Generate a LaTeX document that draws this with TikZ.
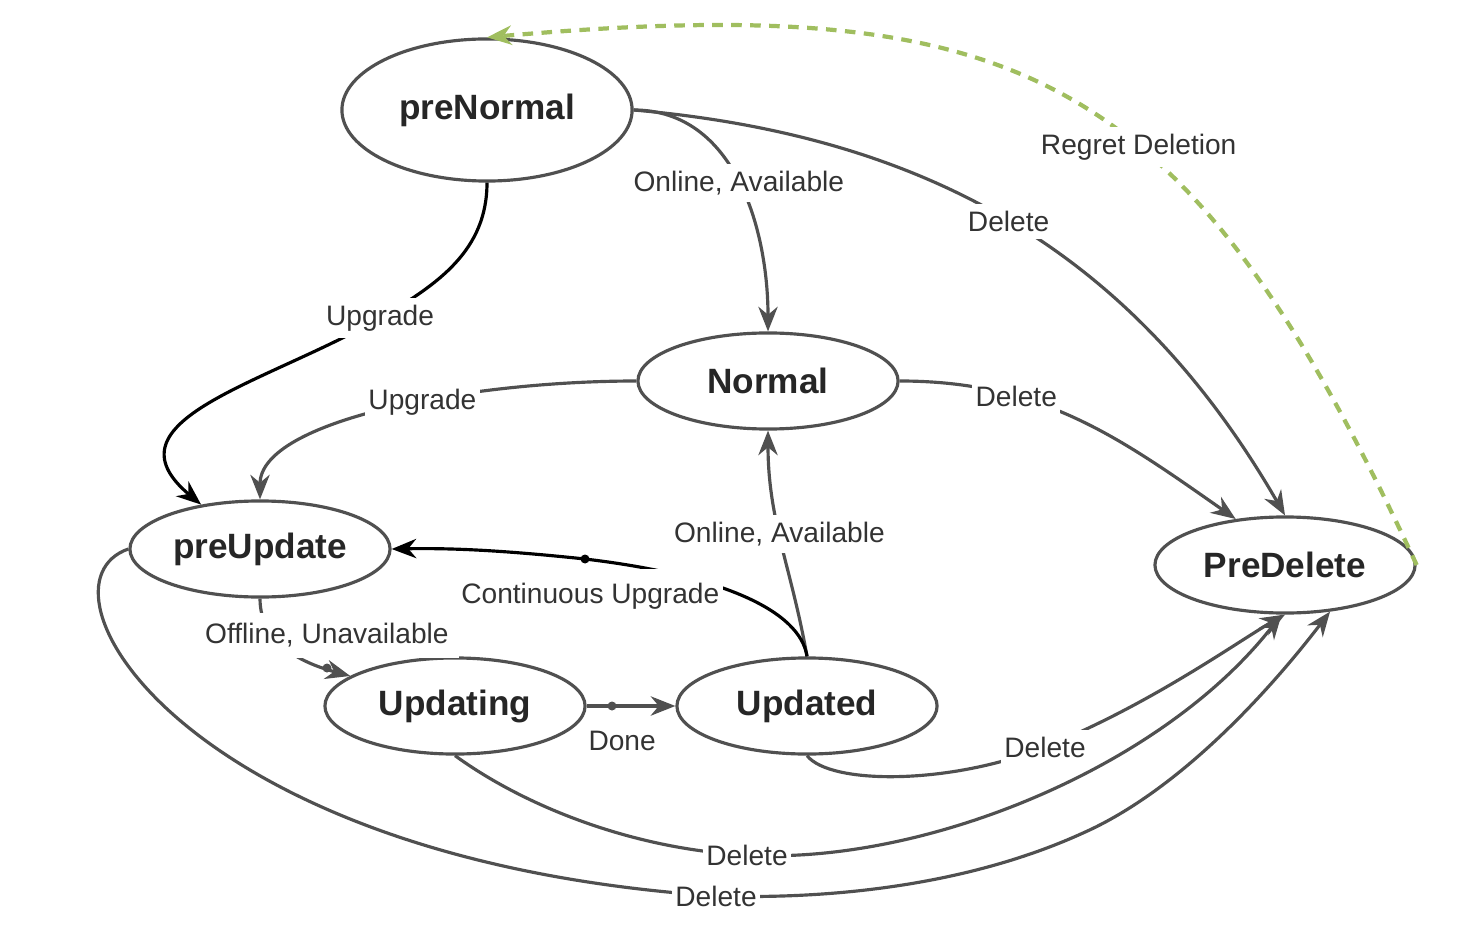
\documentclass[tikz,border=0pt]{standalone}
\usepackage{fontspec}
\setmainfont{Liberation Sans}
\usetikzlibrary{shapes.geometric,arrows.meta}
\definecolor{linegray}{RGB}{80,80,80}
\definecolor{labelgray}{RGB}{51,51,51}
\definecolor{regretgreen}{RGB}{160,190,95}
\tikzset{
    state/.style={ellipse, draw=linegray, line width=0.9pt, inner sep=0pt,
        minimum width=2.6cm, minimum height=0.96cm, text=black!85,
        font=\fontsize{10}{12}\selectfont\bfseries},
    trans/.style={->, draw=linegray, line width=0.9pt},
    blk/.style={->, draw=black, line width=0.9pt},
    regret/.style={->, draw=regretgreen, line width=1.2pt, dash pattern=on 3pt off 2.4pt},
    lbl/.style={fill=white, inner xsep=1pt, inner ysep=2pt, text=labelgray, font=\fontsize{8}{10}\selectfont},
    knot/.style={circle, fill=#1, inner sep=0pt, minimum size=0.09cm}
}
\begin{document}
\begin{tikzpicture}[x=0.01cm, y=0.01cm, >={Stealth[length=7pt, width=5.5pt]}]
    \useasboundingbox (0,0) rectangle (1474,-931);
    \node[state, minimum width=2.9cm, minimum height=1.42cm] (preNormal) at (487,-110) {preNormal};
    \node[state] (Normal) at (768,-381) {Normal};
    \node[state] (preUpdate) at (260,-549) {preUpdate};
    \node[state] (Updating) at (455,-706) {Updating};
    \node[state] (Updated) at (807,-706) {Updated};
    \node[state] (PreDelete) at (1285,-565) {PreDelete};

    \draw[trans] (preNormal.east) to[out=0, in=90] node[lbl, pos=.5] {Online, Available} (Normal.north);
    \draw[trans] (preNormal.east) to[out=-5, in=120] node[lbl, pos=.49] {Delete} (PreDelete.north);
    \draw[blk] (preNormal.south) to[out=-90, in=30] node[lbl, pos=1] {Upgrade} (380,-318)
        to[out=210, in=140, looseness=1.3] (preUpdate.143);
    \draw[trans] (Normal.west) .. controls (470,-381) and (260,-420) .. node[lbl, pos=.42] {Upgrade} (preUpdate.north);
    \draw[trans] (Normal.east) to[out=0, in=145] node[lbl, pos=.31] {Delete} (PreDelete.137);
    \draw[trans] (Updated.north) to[out=100, in=-90] node[lbl, pos=.55] {Online, Available} (Normal.south);
    \draw[blk] (Updated.north) .. controls (800,-610) and (720,-575) ..
        node[lbl, pos=.6, anchor=east, inner ysep=4pt, xshift=0.05cm, yshift=-0.09cm] {Continuous Upgrade} (585,-559)
        .. controls (500,-550) and (450,-548) .. (preUpdate.east);
    \node[knot=black] (cuKnot) at (585,-559) {};
    \draw[trans] (preUpdate.south) to[out=-90, in=165]
        node[lbl, pos=.4, inner sep=3pt, xshift=0.48cm, yshift=0.07cm] {Offline, Unavailable} (Updating.164);
    \node[knot=linegray] (offKnot) at (327,-668) {};
    \draw[trans] (Updating.east) -- node[lbl, fill=none, pos=.4, yshift=-0.35cm] {Done} (Updated.west);
    \node[knot=linegray] (doneKnot) at (612,-706) {};
    \draw[trans] (Updated.south) .. controls (830,-785) and (950,-785) .. (1045,-747) node[lbl] {Delete}
        .. controls (1150,-705) and (1240,-640) .. (PreDelete.south);
    \draw[trans] (Updating.south) .. controls (530,-810) and (640,-850) .. (747,-855) node[lbl] {Delete}
        .. controls (920,-865) and (1160,-770) .. (PreDelete.-94);
    \draw[trans] (preUpdate.west) .. controls (25,-585) and (180,-860) .. (716,-896) node[lbl] {Delete}
        .. controls (850,-900) and (980,-880) .. (1083,-833)
        .. controls (1180,-790) and (1270,-690) .. (PreDelete.-46);
    \draw[regret] (PreDelete.east) to[out=115, in=5, looseness=1.3] node[lbl, pos=.41] {Regret Deletion} (preNormal.north);
\end{tikzpicture}
\end{document}
